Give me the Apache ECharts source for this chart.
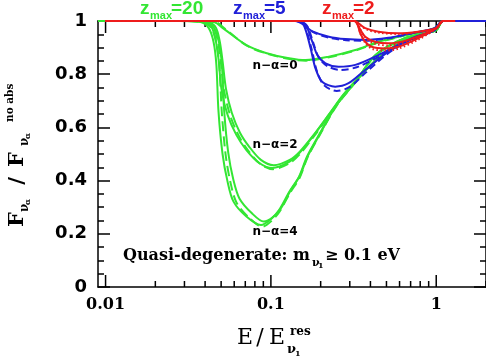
<!DOCTYPE html>
<html><head><meta charset="utf-8">
<script src="https://cdn.jsdelivr.net/npm/echarts@6/dist/echarts.min.js"></script>
<style>html,body{margin:0;padding:0;background:#fff}#c{width:486px;height:360px}</style>
</head><body><div id="c"></div>
<script>
// ---- axes (x is logarithmic: values are given in real units, plotted on log10 scale) ----
const xMin = 0.009, xMax = 2;
const xMajorTicks = [0.01, 0.1, 1];
const xMinorTicks = [0.02,0.03,0.04,0.05,0.06,0.07,0.08,0.09,0.2,0.3,0.4,0.5,0.6,0.7,0.8,0.9,2];
const xTickLabels = ['0.01', '0.1', '1'];
const yMin = 0, yMax = 1, yStep = 0.2;

// ---- z_max = 20 (green) ----
const g0  = [[0.009,1],[0.036,1],[0.0457,0.995],[0.051,0.974],[0.0708,0.910],[0.0933,0.880],[0.129,0.860],[0.162,0.853],[0.224,0.866],[0.324,0.891],[0.447,0.922],[0.646,0.947],[0.977,0.973],[1.1,1],[2,1]];
const g0d = [[0.009,1],[0.038,1],[0.047,0.994],[0.053,0.970],[0.072,0.906],[0.095,0.877],[0.13,0.857],[0.163,0.851],[0.225,0.864],[0.325,0.889],[0.45,0.92],[0.65,0.946],[0.977,0.972],[1.1,1],[2,1]];
const g2  = [[0.009,1],[0.032,1],[0.0398,0.995],[0.0438,0.977],[0.0463,0.929],[0.0483,0.853],[0.0503,0.741],[0.0547,0.647],[0.0619,0.571],[0.0711,0.515],[0.0851,0.466],[0.102,0.447],[0.129,0.470],[0.149,0.504],[0.182,0.571],[0.224,0.647],[0.275,0.722],[0.339,0.786],[0.447,0.861],[0.649,0.929],[1.0,0.966],[1.1,1],[2,1]];
const g2b = [[0.009,1],[0.034,1],[0.042,0.995],[0.0465,0.975],[0.049,0.925],[0.051,0.85],[0.0535,0.745],[0.058,0.655],[0.065,0.58],[0.074,0.527],[0.087,0.478],[0.104,0.458],[0.13,0.478],[0.15,0.51],[0.183,0.575],[0.225,0.65],[0.275,0.724],[0.339,0.788],[0.447,0.862],[0.649,0.929],[1.0,0.966],[1.1,1],[2,1]];
const g2d = [[0.009,1],[0.033,1],[0.041,0.995],[0.045,0.976],[0.0477,0.927],[0.0497,0.851],[0.052,0.742],[0.0565,0.648],[0.0635,0.572],[0.0725,0.515],[0.0865,0.462],[0.103,0.443],[0.13,0.466],[0.15,0.5],[0.183,0.568],[0.225,0.645],[0.276,0.72],[0.34,0.785],[0.448,0.86],[0.65,0.928],[1.0,0.966],[1.1,1],[2,1]];
const g4  = [[0.009,1],[0.028,1],[0.0375,0.996],[0.0420,0.974],[0.0450,0.921],[0.0468,0.835],[0.0482,0.660],[0.0510,0.500],[0.0546,0.398],[0.0593,0.322],[0.0711,0.265],[0.0871,0.233],[0.1,0.255],[0.112,0.289],[0.129,0.357],[0.148,0.415],[0.165,0.489],[0.195,0.571],[0.25,0.684],[0.325,0.771],[0.429,0.872],[0.649,0.936],[1.0,0.966],[1.1,1],[2,1]];
const g4d = [[0.009,1],[0.03,1],[0.039,0.996],[0.0438,0.972],[0.0468,0.918],[0.0488,0.83],[0.0505,0.655],[0.0533,0.495],[0.057,0.392],[0.062,0.317],[0.074,0.26],[0.089,0.227],[0.101,0.249],[0.113,0.284],[0.13,0.352],[0.149,0.41],[0.166,0.485],[0.196,0.568],[0.25,0.682],[0.325,0.77],[0.43,0.871],[0.65,0.935],[1.0,0.966],[1.1,1],[2,1]];
const g4b = [[0.009,1],[0.031,1],[0.0405,0.996],[0.0455,0.972],[0.0486,0.917],[0.0506,0.83],[0.0522,0.66],[0.0552,0.505],[0.0592,0.405],[0.0645,0.333],[0.0768,0.277],[0.0905,0.246],[0.103,0.263],[0.115,0.296],[0.131,0.361],[0.15,0.419],[0.167,0.492],[0.197,0.573],[0.25,0.686],[0.325,0.772],[0.43,0.872],[0.65,0.936],[1.0,0.966],[1.1,1],[2,1]];

// ---- z_max = 5 (blue) ----
const b0  = [[0.01,1],[0.14,1],[0.148,0.996],[0.162,0.981],[0.177,0.962],[0.224,0.941],[0.282,0.932],[0.372,0.929],[0.513,0.937],[0.705,0.954],[0.977,0.973],[1.1,1],[2,1]];
const b0d = [[0.01,1],[0.142,1],[0.15,0.995],[0.165,0.978],[0.18,0.958],[0.226,0.937],[0.285,0.928],[0.375,0.926],[0.515,0.935],[0.707,0.953],[0.977,0.972],[1.1,1],[2,1]];
const b2  = [[0.01,1],[0.145,1],[0.162,0.985],[0.178,0.922],[0.191,0.872],[0.214,0.841],[0.257,0.828],[0.324,0.835],[0.447,0.872],[0.646,0.922],[0.977,0.966],[1.1,1],[2,1]];
const b2d = [[0.01,1],[0.147,1],[0.165,0.983],[0.181,0.915],[0.195,0.862],[0.22,0.83],[0.262,0.816],[0.33,0.826],[0.45,0.866],[0.65,0.92],[0.977,0.966],[1.1,1],[2,1]];
const b4  = [[0.01,1],[0.145,1],[0.158,0.985],[0.174,0.897],[0.186,0.822],[0.204,0.772],[0.245,0.753],[0.295,0.766],[0.372,0.816],[0.513,0.885],[0.708,0.935],[0.977,0.966],[1.1,1],[2,1]];
const b4d = [[0.01,1],[0.147,1],[0.16,0.982],[0.177,0.89],[0.19,0.81],[0.21,0.758],[0.25,0.737],[0.3,0.752],[0.375,0.806],[0.515,0.88],[0.71,0.932],[0.977,0.966],[1.1,1],[2,1]];

// ---- z_max = 2 (red) ----
const r0  = [[0.01,1],[0.32,1],[0.339,0.991],[0.372,0.973],[0.447,0.960],[0.589,0.954],[0.776,0.960],[1.0,0.973],[1.1,1],[1.3,1]];
const r0d = [[0.01,1],[0.322,1],[0.345,0.985],[0.38,0.968],[0.45,0.956],[0.59,0.951],[0.78,0.958],[1.0,0.972],[1.1,1],[1.3,1]];
const r2  = [[0.01,1],[0.32,1],[0.339,0.979],[0.372,0.941],[0.427,0.922],[0.513,0.916],[0.676,0.929],[1.0,0.973],[1.1,1],[1.3,1]];
const r2d = [[0.01,1],[0.322,1],[0.342,0.975],[0.376,0.935],[0.43,0.914],[0.515,0.908],[0.68,0.925],[1.0,0.972],[1.1,1],[1.3,1]];
const r4  = [[0.01,1],[0.32,1],[0.347,0.954],[0.372,0.922],[0.407,0.903],[0.490,0.897],[0.589,0.903],[0.776,0.935],[1.0,0.973],[1.1,1],[1.3,1]];
const r4d = [[0.01,1],[0.322,1],[0.35,0.948],[0.376,0.914],[0.41,0.895],[0.49,0.889],[0.59,0.896],[0.78,0.93],[1.0,0.972],[1.1,1],[1.3,1]];

const GREEN = '#33e633', BLUE = '#2020d8', RED = '#ee1c1c';
const lg = Math.log10;

function ln(data, color, type) {
  return {type:'line', data: data.map(p => [lg(p[0]), p[1]]), xAxisIndex:0, yAxisIndex:0,
    symbol:'none', showSymbol:false, smooth:0.3, clip:false, silent:true,
    lineStyle:{color, width:2, type: type || 'solid'}};
}
const gd = [10,5], bd = [7,4], rd = [1.5,2.5];

// inward tick marks on the log x axis (bottom and top), drawn through the axis scales
const plotHeightPx = 266;
function tickLine(v, lenPx, atTop) {
  const d = lenPx / plotHeightPx * (yMax - yMin);
  const y0 = atTop ? yMax : yMin, y1 = atTop ? yMax - d : yMin + d;
  return {type:'line', data:[[lg(v), y0], [lg(v), y1]], xAxisIndex:0, yAxisIndex:0,
    symbol:'none', showSymbol:false, clip:false, silent:true, z:1,
    lineStyle:{color:'#000', width:1.5}};
}
const tickSeries = [];
[true, false].forEach(top => {
  xMajorTicks.forEach(v => tickSeries.push(tickLine(v, 12, top)));
  xMinorTicks.forEach(v => tickSeries.push(tickLine(v, 6, top)));
});

const series = [
  ...tickSeries,
  ln(g0,GREEN), ln(g0d,GREEN,gd),
  ln(g2,GREEN), ln(g2b,GREEN), ln(g2d,GREEN,gd),
  ln(g4,GREEN), ln(g4b,GREEN), ln(g4d,GREEN,gd),
  ln(b0,BLUE), ln(b0d,BLUE,bd), ln(b2,BLUE), ln(b2d,BLUE,bd), ln(b4,BLUE), ln(b4d,BLUE,bd),
  ln(r0,RED), ln(r0d,RED,rd), ln(r2,RED), ln(r2d,RED,rd), ln(r4,RED), ln(r4d,RED,rd)
];

const AX = {color:'#000', width:1.5};
const majLog = xMajorTicks.map(lg);
function xax(pos) {
  return {type:'value', min:lg(xMin), max:lg(xMax), position:pos, gridIndex:0,
    axisLine:{show:true, onZero:false, lineStyle:AX},
    axisTick:{show:false},
    splitLine:{show:false},
    axisLabel:{show: pos==='bottom', customValues:majLog, margin:10,
      formatter: v => xTickLabels[Math.round(v) + 2] ?? '',
      fontFamily:'DejaVu Serif', fontWeight:'bold', fontSize:16, color:'#000'}};
}
function yax(pos) {
  return {type:'value', min:yMin, max:yMax, interval:yStep, position:pos,
    axisLine:{show:true, onZero:false, lineStyle:AX},
    axisTick:{show:true, inside:true, length:12, lineStyle:AX},
    minorTick:{show:true, splitNumber:4, length:6, lineStyle:AX},
    splitLine:{show:false}, minorSplitLine:{show:false},
    axisLabel:{show: pos==='left', margin:11, formatter: v => (v===0||v===1) ? String(v) : v.toFixed(1),
      fontFamily:'DejaVu Sans', fontWeight:'bold', fontSize:18, color:'#000'}};
}

function T(x, y, text, size, o) {
  o = o || {};
  return {type:'text', x, y, silent:true, z:100,
    style:{text, fontFamily:o.family||'DejaVu Serif', fontWeight:o.weight||'bold', fontSize:size,
      fill:o.color||'#000', align:o.align||'left', verticalAlign:'middle',
      textAlign:o.align||'left', textVerticalAlign:'middle'}};
}
function zlab(x, val, color) {
  const o = {family:'Liberation Sans', color};
  return [T(x, 9, 'z', 19, o), T(x+10, 16, 'max', 11, o), T(x+31, 9, '=' + val, 19, o)];
}

const graphic = [
  ...zlab(140, '20', GREEN), ...zlab(233, '5', BLUE), ...zlab(322, '2', RED),
  T(275, 66, 'n\u2212\u03b1=0', 12, {family:'DejaVu Sans', align:'center'}),
  T(275, 145, 'n\u2212\u03b1=2', 12, {family:'DejaVu Sans', align:'center'}),
  T(275, 232, 'n\u2212\u03b1=4', 12, {family:'DejaVu Sans', align:'center'}),
  T(123, 256, 'Quasi-degenerate: m', 16),
  T(312, 263, '\u03bd', 11), T(318, 266, '1', 8),
  T(325, 256, '\u2265 0.1 eV', 16),
  // x axis title
  T(245, 338, 'E', 22, {weight:'normal', align:'center'}),
  T(260, 338, '/', 22, {weight:'normal', align:'center'}),
  T(277, 338, 'E', 22, {weight:'normal', align:'center'}),
  T(290, 332, 'res', 12), T(287, 350, '\u03bd', 13), T(295, 354, '1', 8),
  // y axis title (rotated)
  {type:'group', x:18, y:155, rotation:Math.PI/2, children:[
    T(-72, 0, 'F', 21),
    T(-57, 7, '\u03bd', 12), T(-50, 10, '\u03b1', 8),
    T(-26, 0, '/', 21, {align:'center'}),
    T(-12, 0, 'F', 21),
    T(9, 7, '\u03bd', 12), T(16, 10, '\u03b1', 8),
    T(33, -8, 'no abs', 10.5)
  ]}
];

const chart = echarts.init(document.getElementById('c'), null, {renderer:'canvas'});
chart.setOption({
  animation:false,
  backgroundColor:'#fff',
  grid:{left:98, right:-2, top:21, bottom:73},
  xAxis:[xax('bottom'), xax('top')],
  yAxis:[yax('left'), yax('right')],
  series
});
chart.setOption({graphic});
</script></body></html>
